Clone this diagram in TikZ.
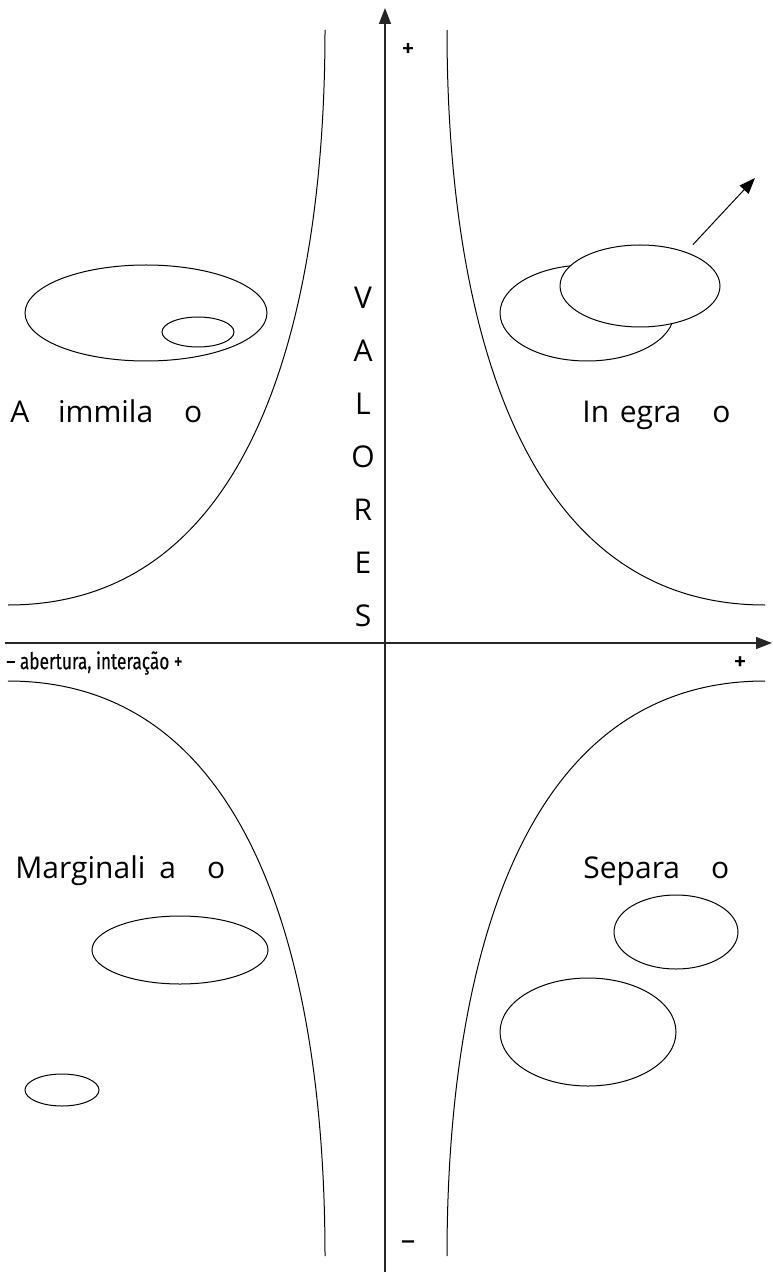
\documentclass[tikz,border=0pt]{standalone}
\usepackage{fontspec}
\setmainfont{Open Sans}
\newfontfamily\axisfont[FakeBold=0.4]{Fira Sans}
\usetikzlibrary{shapes.geometric, arrows.meta}

\begin{document}
\begin{tikzpicture}[x=0.5pt, y=-0.5pt,
           group/.style={draw=black, ellipse, inner sep=0pt, line width=0.5pt},
           quadrant/.style={font=\fontsize{15}{18}\selectfont, inner sep=0pt},
           axis/.style={draw=black!85, line width=0.7pt, -{Triangle[length=8pt,width=6pt]}},
           border/.style={draw=black, line width=0.5pt},
           axislabel/.style={font=\axisfont\fontsize{11.5}{13}\selectfont, inner sep=0pt},
           sign/.style={font=\axisfont\fontsize{13}{13}\selectfont, inner sep=0pt},
        ]
        \useasboundingbox (0,0) rectangle (772,1272);

        \coordinate (ybot) at (385,1272);
        \coordinate (ytop) at (385,8);
        \coordinate (xleft) at (5,643);
        \coordinate (xright) at (772,643);
        \draw[axis] (ybot) -- (ytop);
        \draw[axis] (xleft) -- (xright);

        \draw[border] (325,30) .. controls (325,290) and (265,605) .. (8,605);
        \draw[border] (447,30) .. controls (447,290) and (507,605) .. (765,605);
        \draw[border] (8,681) .. controls (265,681) and (325,996) .. (325,1256);
        \draw[border] (765,681) .. controls (507,681) and (447,996) .. (447,1256);

        \node at (408,50) (ytopsign) [sign] {+};
        \node at (408,1245) (ybotsign) [sign] {–};
        \node at (740,663) (xsign) [sign] {+};
        \node at (6,663) (abertura) [axislabel, anchor=west] {\scalebox{0.75}[1]{– abertura, interação +}};

        \node at (363,457) (valores) [quadrant, align=center, font=\fontsize{15}{26.5}\selectfont] {V\\A\\L\\O\\R\\E\\S};

        \node at (10,415) (assimilacao) [quadrant, anchor=west] {A\phantom{ss}immila\phantom{çã}o};
        \node at (582,415) (integracao) [quadrant, anchor=west] {In\phantom{t}egra\phantom{çã}o};
        \node at (15,871) (marginalizacao) [quadrant, anchor=west] {Marginali\phantom{z}a\phantom{çã}o};
        \node at (583,871) (separacao) [quadrant, anchor=west] {Separa\phantom{çã}o};

        \node at (146,313) (assimbig) [group, minimum width=121pt, minimum height=48pt] {};
        \node at (198,332) (assimsmall) [group, minimum width=36pt, minimum height=15pt] {};

        \node at (587,313) (integback) [group, minimum width=87pt, minimum height=48pt] {};
        \node at (640,286) (integfront) [group, fill=white, minimum width=80pt, minimum height=41pt] {};
        \coordinate (integtip) at (755,178);
        \draw[border, -{Triangle[length=8pt,width=6pt]}] ([xshift=-2pt,yshift=6pt]integfront.north east) -- (integtip);

        \node at (180,950) (margbig) [group, minimum width=88pt, minimum height=34pt] {};
        \node at (62,1090) (margsmall) [group, minimum width=37pt, minimum height=16pt] {};

        \node at (676,932) (sepupper) [group, minimum width=62pt, minimum height=37pt] {};
        \node at (588,1032) (seplower) [group, minimum width=88pt, minimum height=54pt] {};
     \end{tikzpicture}
\end{document}
